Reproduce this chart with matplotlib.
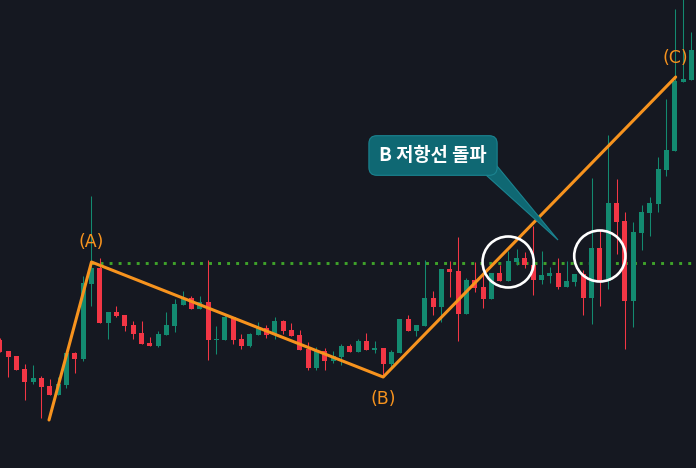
import numpy as np
from matplotlib import pyplot as plt
from matplotlib.patches import Ellipse, Polygon

# candle data (price units), one entry per bar
opens  = [128,117,112, 99, 86, 90, 82, 73, 83,115,109,184,200,145,156,153,143,135,125,122,
          133,142,163,170,159,166,128,128,151,129,122,133,140,133,147,138,133,119,100,117,
          107,111,122,116,127,118,120,104,115,149,137,142,170,161,199,197,154,188,181,169,
          195,187,206,210,203,188,192,195,181,186,194,170,220,187,265,247,167,235,255,264,
          298,317,386,388]
highs  = [130,117,112,104,103, 92, 89, 91,115,116,192,272,210,156,162,153,147,147,131,137,
          156,169,177,172,172,208,142,154,151,134,135,146,143,151,148,145,138,126,121,120,
          117,124,124,129,135,127,120,118,149,153,143,208,177,199,207,231,190,206,193,195,
          203,217,219,216,242,217,201,210,207,194,198,290,238,333,289,256,246,263,271,311,
          369,459,478,436]
lows   = [116, 91, 98, 68, 84, 50, 73, 73, 80, 95,107,162,145,129,151,137,129,124,122,121,
          133,136,163,159,159,108,114,128,124,119,121,133,130,129,134,132,118, 98, 98, 98,
          105,103,116,116,118,115, 93, 99,115,137,132,142,153,146,171,127,154,176,160,169,
          187,187,203,200,173,184,185,179,181,182,153,144,162,179,214,119,141,218,232,256,
          292,317,386,388]
closes = [116,111, 98, 86, 90, 81, 73, 84,115,109,185,200,145,156,152,142,134,124,122,134,
          143,164,170,159,166,128,129,151,128,122,134,140,133,147,137,132,118,100,117,107,
          112,122,116,127,118,120,104,116,149,137,143,170,161,199,196,154,188,180,169,195,
          187,207,210,203,188,193,195,181,187,194,170,220,187,265,246,167,236,256,265,299,
          318,387,389,418]

# wave points A-B-C
wave_x = [5.9, 11.0, 46.0, 81.1]
wave_y = [48, 206, 91, 391]
wave_labels = ["(A)", "(B)", "(C)"]
resistance = 205

# breakout circles (bar index, price)
circle_x = [61.0, 72.0]
circle_y = [206, 212]

up_color = "#138a70"
down_color = "#f23645"
bg = "#151821"


def main():
    fig = plt.figure(figsize=(6.96, 4.68), dpi=100, facecolor=bg)
    ax = fig.add_axes([0, 0, 1, 1])
    ax.set_facecolor(bg)
    ax.axis("off")
    ax.set_xlim(0.02, 83.54)
    ax.set_ylim(0, 468)

    # resistance from A, behind the candles
    ax.plot([wave_x[1], 90], [resistance, resistance], color="#3fa32a",
            lw=2.1, linestyle=(0, (1, 2.1)), zorder=1)

    x = np.arange(len(opens))
    o = np.array(opens)
    c = np.array(closes)
    colors = [up_color if cc >= oo else down_color for oo, cc in zip(o, c)]
    ax.vlines(x, lows, highs, colors=colors, lw=0.75, zorder=2)
    body = np.maximum(np.abs(c - o), 1.2)
    ax.bar(x, body, bottom=np.minimum(o, c), width=0.62, color=colors, zorder=2)

    # elliott-ish wave
    ax.plot(wave_x, wave_y, color="#f7931e", lw=2.2, zorder=3, solid_capstyle="round")
    offs = [20, -22, 19]
    for lx, ly, lab, d in zip(wave_x[1:], wave_y[1:], wave_labels, offs):
        ax.text(lx, ly + d, lab, color="#f7931e", fontsize=12.5, ha="center", va="center", zorder=5)

    for cx, cy in zip(circle_x, circle_y):
        ax.add_patch(Ellipse((cx, cy), 6.15, 51, fill=False, ec="white", lw=1.9, zorder=4))

    # callout
    px = 8.333
    tri = [((486 + 0.17) / px, 468 - 175), ((497 + 0.17) / px, 468 - 166), ((558 + 0.17) / px, 468 - 240)]
    ax.add_patch(Polygon(tri, closed=True, fc="#0f6873", ec="#1b8390", lw=0.8, zorder=5))
    ax.text((433 + 0.17) / px, 468 - 155.5, "B 저항선 돌파", color="white", fontsize=13.5,
            fontweight="bold", family=["Noto Sans CJK KR", "DejaVu Sans"], ha="center", va="center",
            zorder=6,
            bbox=dict(boxstyle="round,pad=0.55,rounding_size=0.42", fc="#0f6873", ec="#1b8390", lw=0.8))

    fig.savefig("out.png", dpi=100, facecolor=bg)


if __name__ == '__main__':
    main()
